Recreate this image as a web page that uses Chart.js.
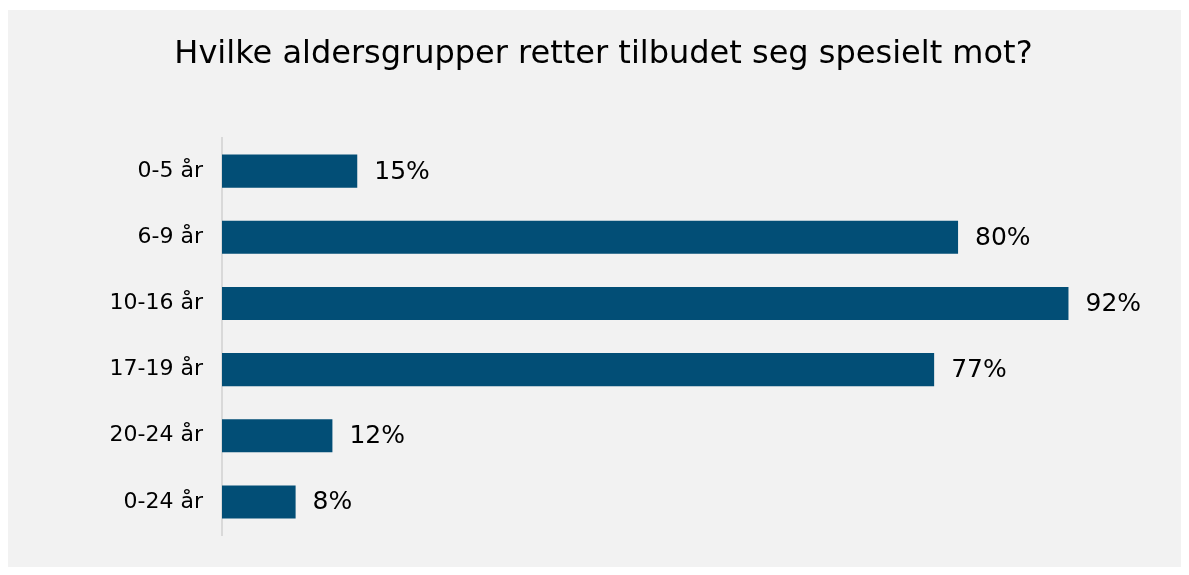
<!DOCTYPE html>
<html><head><meta charset="utf-8">
<script src="https://cdn.jsdelivr.net/npm/chart.js@4/dist/chart.umd.min.js"></script>
<style>html,body{margin:0;padding:0;background:#fff;}#wrap{width:1189px;height:575px;}</style>
</head><body><div id="wrap"><canvas id="c" width="1189" height="575"></canvas></div>
<script>
const categories = ['0-5 år','6-9 år','10-16 år','17-19 år','20-24 år','0-24 år'];
const values = [14.7, 80, 92, 77.4, 12, 8];
const valueLabels = ['15%','80%','92%','77%','12%','8%'];
const titleText = 'Hvilke aldersgrupper retter tilbudet seg spesielt mot?';

const bgPlugin = {
  id: 'bg',
  beforeDraw(chart) {
    const ctx = chart.ctx;
    ctx.save();
    ctx.fillStyle = '#ffffff';
    ctx.fillRect(0, 0, chart.width, chart.height);
    ctx.fillStyle = '#f2f2f2';
    ctx.fillRect(8, 10, 1173, 557);
    ctx.restore();
  }
};
const labelPlugin = {
  id: 'vlabels',
  afterDatasetsDraw(chart) {
    const ctx = chart.ctx;
    const meta = chart.getDatasetMeta(0);
    ctx.save();
    ctx.font = '25px "DejaVu Sans"';
    ctx.fillStyle = '#000';
    ctx.textAlign = 'left';
    ctx.textBaseline = 'middle';
    meta.data.forEach((bar, i) => {
      ctx.fillText(valueLabels[i], bar.x + 17, bar.y + 1);
    });
    ctx.restore();
  }
};

new Chart(document.getElementById('c'), {
  type: 'bar',
  data: {
    labels: categories,
    datasets: [{
      data: values,
      backgroundColor: '#024e76',
      borderWidth: 0,
      categoryPercentage: 1.0,
      barPercentage: 0.5
    }]
  },
  options: {
    indexAxis: 'y',
    responsive: false,
    animation: false,
    devicePixelRatio: 1,
    layout: { padding: { top: 0, right: 0, bottom: 40, left: 18 } },
    plugins: {
      legend: { display: false },
      tooltip: { enabled: false },
      title: {
        display: true,
        text: titleText,
        color: '#000',
        font: { family: 'DejaVu Sans', size: 32, weight: 'normal', lineHeight: 1.2 },
        padding: { top: 35, bottom: 64.6 }
      }
    },
    scales: {
      x: { display: false, min: 0, max: 105.1 },
      y: {
        afterFit(scale) { scale.width = 204; },
        grid: { display: false, drawTicks: false },
        border: { display: true, color: '#d9d9d9', width: 2 },
        ticks: { color: '#000', font: { family: 'DejaVu Sans', size: 22 }, padding: 19 }
      }
    }
  },
  plugins: [bgPlugin, labelPlugin]
});
</script></body></html>
